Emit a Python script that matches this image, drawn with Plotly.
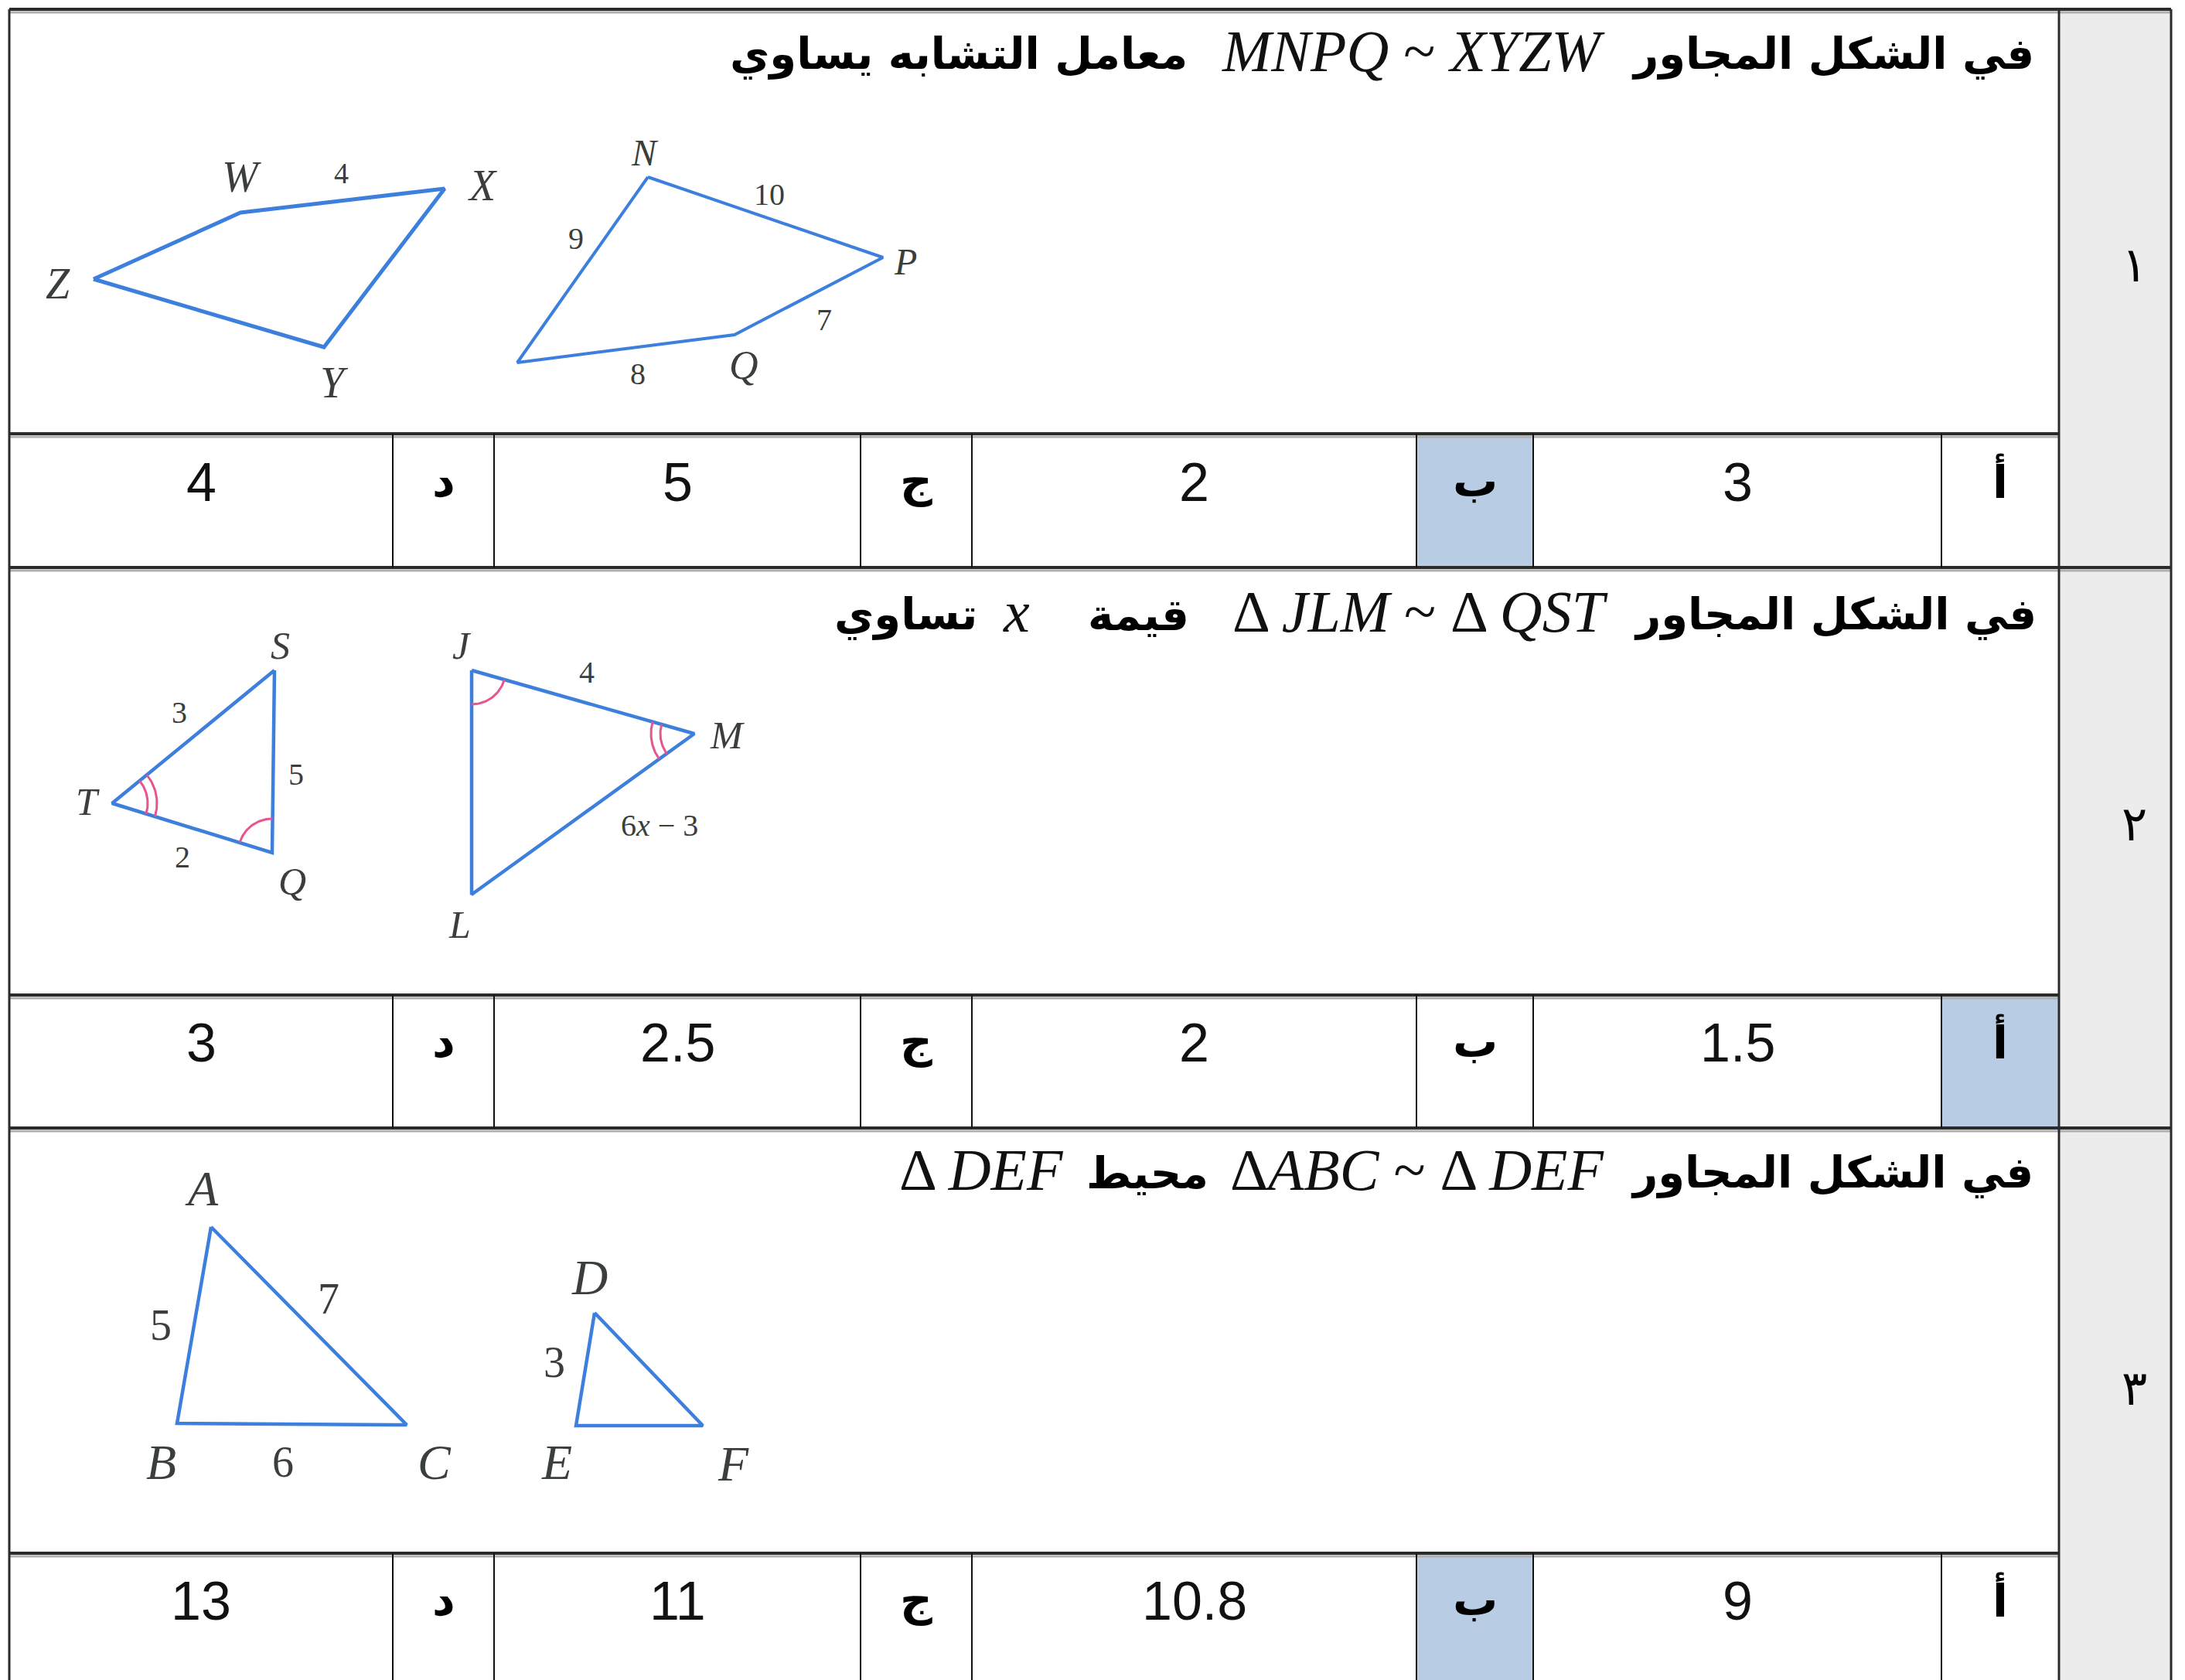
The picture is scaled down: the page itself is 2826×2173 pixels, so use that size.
import numpy as np
import plotly.graph_objects as go

W, H = 2826, 2173

# table grid (pixel edges)
col_edges = [4, 500, 631, 1105, 1249, 1824, 1975, 2503, 2655, 2800]
row_edges = [4, 553, 726, 1279, 1451, 2001, 2173]

# answers, right to left: أ ب ج د
letters = ["أ", "ب", "ج", "د"]
answers = [["3", "2", "5", "4"],
           ["1.5", "2", "2.5", "3"],
           ["9", "10.8", "11", "13"]]
correct = [1, 0, 1]
row_numbers = ["١", "٢", "٣"]

# question texts: (text, right edge x, kind)
q_y = [58, 783, 1505]
questions = [
    [("في الشكل المجاور", 2625, "ar"), ("<i>MNPQ</i> ~ <i>XYZW</i>", 2070, "m"),
     ("معامل التشابه يساوي", 1530, "ar")],
    [("في الشكل المجاور", 2628, "ar"), ("Δ <i>JLM</i> ~ Δ <i>QST</i>", 2074, "m"),
     ("قيمة", 1532, "ar"), ("<i>x</i>", 1326, "m"), ("تساوي", 1258, "ar")],
    [("في الشكل المجاور", 2624, "ar"), ("Δ<i>ABC</i> ~ Δ <i>DEF</i>", 2070, "m"),
     ("محيط", 1557, "ar"), ("Δ <i>DEF</i>", 1370, "m")],
]

# figure 1: quadrilaterals
zwxy_x = [113, 303, 567, 411]
zwxy_y = [353, 267, 236, 441]
npq_x = [830, 1134, 942, 661]
npq_y = [221, 325, 425, 461]
fig1_labels = [("W", 304, 221, 56), ("4", 433, 216, 38), ("X", 616, 232, 56), ("Z", 67, 359, 56),
               ("Y", 424, 487, 56), ("N", 826, 189, 48), ("10", 987, 243, 40), ("9", 737, 300, 40),
               ("P", 1163, 330, 48), ("7", 1058, 405, 40), ("Q", 954, 464, 52), ("8", 817, 475, 40)]

# figure 2: triangles
tsq_x = [347, 137, 344]
tsq_y = [859, 1031, 1095]
jml_x = [602, 890, 602]
jml_y = [859, 941, 1149]
fig2_labels = [("S", 354, 827, 50), ("T", 105, 1029, 50), ("Q", 370, 1132, 50), ("3", 224, 913, 40),
               ("5", 375, 993, 40), ("2", 228, 1100, 40), ("J", 589, 827, 50), ("4", 751, 861, 40),
               ("M", 932, 943, 50), ("6<i>x</i> − 3", 845, 1059, 40), ("L", 586, 1188, 50)]

# figure 3: triangles
abc_x = [265, 221, 518]
abc_y = [1579, 1833, 1835]
def_x = [761, 737, 901]
def_y = [1690, 1836, 1836]
fig3_labels = [("A", 253, 1529, 64), ("5", 200, 1706, 56), ("7", 417, 1672, 56), ("B", 200, 1883, 64),
               ("6", 358, 1883, 56), ("C", 554, 1883, 64), ("D", 754, 1644, 64), ("3", 709, 1754, 56),
               ("E", 712, 1883, 64), ("F", 940, 1885, 64)]

BLUE = "#3d7fdc"
PINK = "#e8558e"
GRID = "#2b2b2b"
LABEL = "#3b3f3b"

fig = go.Figure()
shapes = []
ann = []

# gray number column
shapes.append(dict(type="rect", x0=2655, x1=2800, y0=4, y1=H, fillcolor="#ececec", line_width=0, layer="below"))

# highlighted answers
letter_cols = [(2503, 2655), (1824, 1975), (1105, 1249), (500, 631)]
for r, k in enumerate(correct):
    x0, x1 = letter_cols[k]
    shapes.append(dict(type="rect", x0=x0, x1=x1, y0=row_edges[2 * r + 1], y1=row_edges[2 * r + 2],
                       fillcolor="#b8cce4", line_width=0, layer="below"))

# horizontal rules (with a faint shadow like the scanned sheet)
for i, y in enumerate(row_edges[:-1]):
    xr = 2800 if i % 2 == 0 else 2655
    shapes.append(dict(type="line", x0=4, x1=xr, y0=y + 4, y1=y + 4, line=dict(color="#b0b0b0", width=3)))
    shapes.append(dict(type="line", x0=4, x1=xr, y0=y, y1=y, line=dict(color=GRID, width=4)))
# outer verticals
for x in [4, 2655, 2800]:
    shapes.append(dict(type="line", x0=x, x1=x, y0=4, y1=H, line=dict(color=GRID, width=3)))
# answer cell dividers
for r in range(3):
    for x in col_edges[1:8]:
        shapes.append(dict(type="line", x0=x, x1=x, y0=row_edges[2 * r + 1], y1=row_edges[2 * r + 2],
                           line=dict(color="#111", width=2)))

# answer row texts
centers_val = [(1975 + 2503) / 2, (1249 + 1824) / 2, (631 + 1105) / 2, (4 + 500) / 2]
centers_let = [(a + b) / 2 for a, b in letter_cols]
for r in range(3):
    yc = (row_edges[2 * r + 1] + row_edges[2 * r + 2]) / 2 - 24
    for k in range(4):
        ann.append(dict(x=centers_val[k], y=yc, text=answers[r][k], showarrow=False,
                        font=dict(family="Liberation Sans Narrow, Liberation Sans", size=70, color="#111")))
        ann.append(dict(x=centers_let[k], y=yc - 2, text="<b>" + letters[k] + "</b>", showarrow=False,
                        font=dict(family="DejaVu Sans", size=58, color="#000")))

# row numbers
for r, y in enumerate([334, 1057, 1787]):
    ann.append(dict(x=2752, y=y, text=row_numbers[r], showarrow=False,
                    font=dict(family="DejaVu Sans", size=62, color="#000")))

# question texts
for r, parts in enumerate(questions):
    for text, xr, kind in parts:
        if kind == "ar":
            ann.append(dict(x=xr, y=q_y[r] + 4, text="<b>" + text + "</b>", showarrow=False, xanchor="right",
                            font=dict(family="DejaVu Sans", size=56, color="#000")))
        else:
            ann.append(dict(x=xr, y=q_y[r], text=text, showarrow=False, xanchor="right",
                            font=dict(family="Liberation Serif", size=76, color="#111")))


def poly(xs, ys, width):
    fig.add_trace(go.Scatter(x=xs + xs[:1], y=ys + ys[:1], mode="lines",
                             line=dict(color=BLUE, width=width), hoverinfo="skip"))


poly(zwxy_x, zwxy_y, 5)
poly(npq_x, npq_y, 4)
poly(tsq_x, tsq_y, 4.5)
poly(jml_x, jml_y, 4.5)
poly(abc_x, abc_y, 4.5)
poly(def_x, def_y, 4.5)


def arc(cx, cy, p1, p2, r):
    a1 = np.arctan2(p1[1] - cy, p1[0] - cx)
    a2 = np.arctan2(p2[1] - cy, p2[0] - cx)
    d = (a2 - a1 + np.pi) % (2 * np.pi) - np.pi
    t = np.linspace(a1, a1 + d, 30)
    fig.add_trace(go.Scatter(x=cx + r * np.cos(t), y=cy + r * np.sin(t), mode="lines",
                             line=dict(color=PINK, width=3), hoverinfo="skip"))


S, T, Q = (tsq_x[0], tsq_y[0]), (tsq_x[1], tsq_y[1]), (tsq_x[2], tsq_y[2])
J, M, L = (jml_x[0], jml_y[0]), (jml_x[1], jml_y[1]), (jml_x[2], jml_y[2])
arc(*T, S, Q, 46)
arc(*T, S, Q, 58)
arc(*Q, S, T, 44)
arc(*J, M, L, 44)
arc(*M, J, L, 44)
arc(*M, J, L, 56)

for lab in fig1_labels + fig2_labels + fig3_labels:
    text, x, y, size = lab
    if text.isalpha():
        text = "<i>" + text + "</i>"
    ann.append(dict(x=x, y=y, text=text, showarrow=False,
                    font=dict(family="Liberation Serif", size=size, color=LABEL)))

fig.update_layout(
    width=W, height=H, margin=dict(l=0, r=0, t=0, b=0),
    paper_bgcolor="white", plot_bgcolor="white", showlegend=False,
    xaxis=dict(range=[0, W], visible=False, fixedrange=True),
    yaxis=dict(range=[H, 0], visible=False, fixedrange=True),
    shapes=shapes, annotations=ann,
)

fig.write_html("out.html")
